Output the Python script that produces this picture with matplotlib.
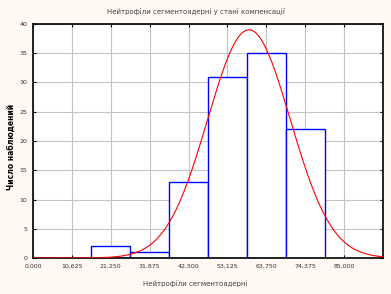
import matplotlib
matplotlib.use("Agg")
import matplotlib.pyplot as plt
import numpy as np

# histogram data (bin edges and counts)
bin_edges = [15.9375, 26.5625, 37.1875, 47.8125, 58.4375, 69.0625, 79.6875]
counts = [2, 1, 13, 31, 35, 22]
x_ticks = [0.0, 10.625, 21.25, 31.875, 42.5, 53.125, 63.75, 74.375, 85.0]
y_ticks = [0, 5, 10, 15, 20, 25, 30, 35, 40]

# fitted normal curve parameters (estimated)
fit_mean = 59.0
fit_sd = 11.3

title = "Нейтрофіли сегментоядерні у стані компенсації"
x_label = "Нейтрофіли сегментоядерні"
y_label = "Число наблюдений"

bg = "#fff8f3"
fig = plt.figure(figsize=(3.91, 2.94), dpi=100, facecolor=bg)
ax = fig.add_axes([33 / 391, 1 - 258 / 294, 350 / 391, 234 / 294])
ax.set_facecolor("white")

ax.grid(True, color="#c4c4c4", lw=0.8, zorder=0)
ax.set_axisbelow(True)

widths = np.diff(bin_edges)
ax.bar(bin_edges[:-1], counts, width=widths, align="edge",
       facecolor="white", edgecolor="#0000ff", lw=1.0, zorder=2)

n = sum(counts)
bw = widths[0]
xs = np.linspace(0, 95.625, 400)
ys = n * bw / (fit_sd * np.sqrt(2 * np.pi)) * np.exp(-0.5 * ((xs - fit_mean) / fit_sd) ** 2)
ax.plot(xs, ys, color="#ff0000", lw=0.8, zorder=3)

ax.set_xlim(0, 95.625)
ax.set_ylim(0, 40)
ax.set_xticks(x_ticks)
ax.set_xticklabels([f"{v:.3f}".replace(".", ",") for v in x_ticks])
ax.set_yticks(y_ticks)
ax.set_yticklabels([str(v) for v in y_ticks])
ax.tick_params(axis="both", direction="in", labelsize=4.5, colors="black",
               labelcolor="#333333", length=2.5, width=0.8,
               top=True, right=True, pad=4)
for s in ax.spines.values():
    s.set_linewidth(1.2)
    s.set_color("black")

fig.text(0.5, 1 - 12 / 294, title, ha="center", va="center", fontsize=5, color="#444444")
fig.text(0.5, 1 - 284 / 294, x_label, ha="center", va="center", fontsize=5, color="#444444")
fig.text(11 / 391, 0.5, y_label, ha="center", va="center", rotation=90,
         fontsize=5.5, fontweight="bold", color="black")

fig.savefig("out.png", dpi=100, facecolor=bg)
